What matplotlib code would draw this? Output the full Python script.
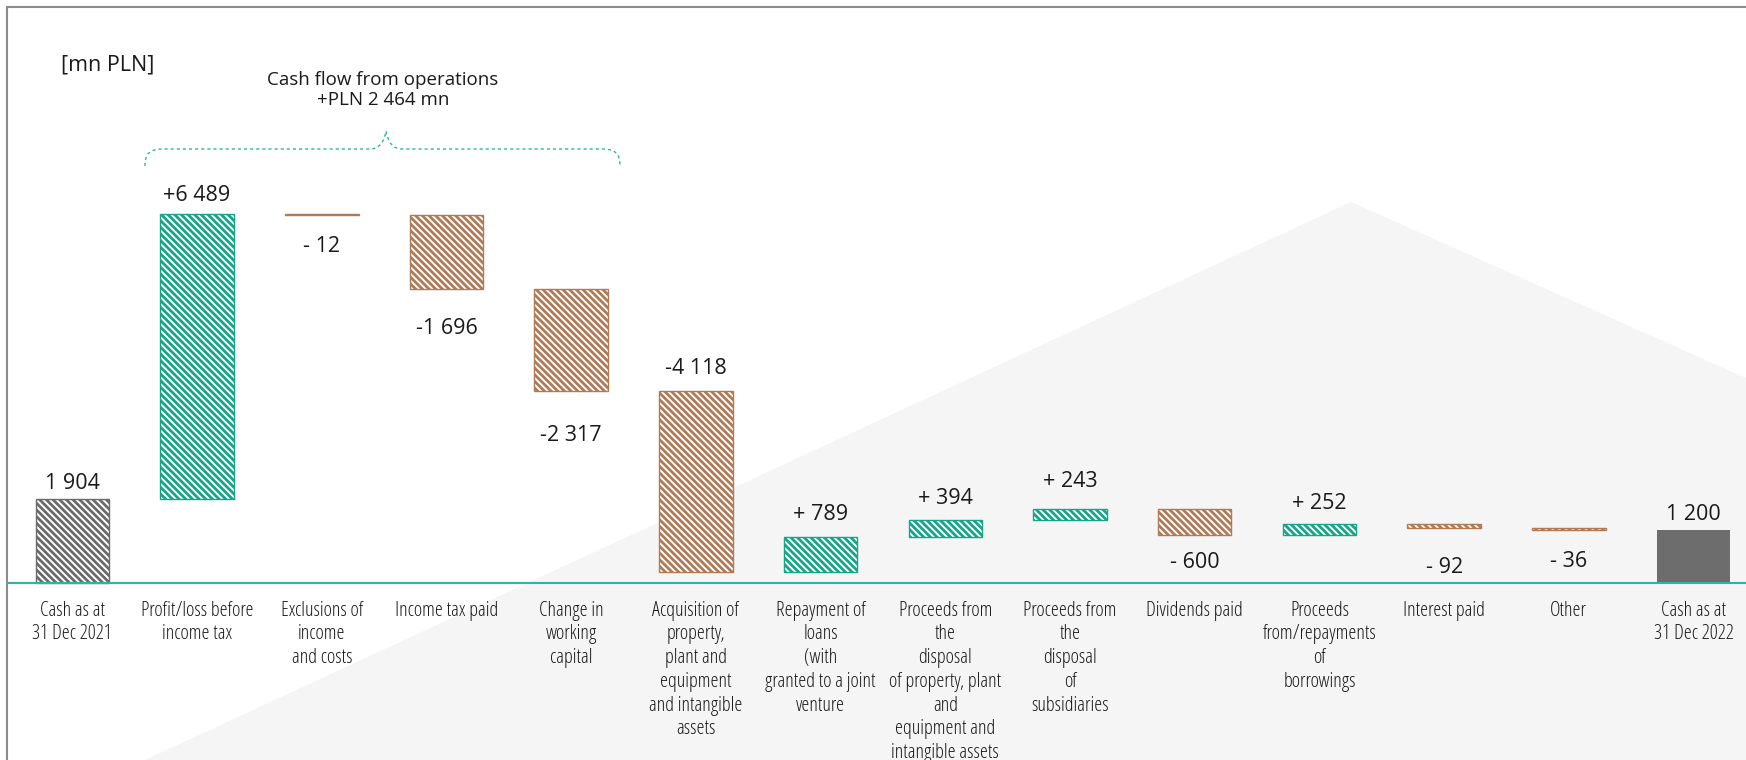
import matplotlib
matplotlib.use("Agg")
import matplotlib.pyplot as plt
from matplotlib.patches import Polygon, PathPatch
from matplotlib.path import Path
from matplotlib.lines import Line2D
from matplotlib.font_manager import FontProperties

# ---------------- data ----------------
categories = [
    "Cash as at\n31 Dec 2021",
    "Profit/loss before\nincome tax",
    "Exclusions of\nincome\nand costs",
    "Income tax paid",
    "Change in\nworking\ncapital",
    "Acquisition of\nproperty,\nplant and\nequipment\nand intangible\nassets",
    "Repayment of\nloans\n(with\ngranted to a joint\nventure",
    "Proceeds from\nthe\ndisposal\nof property, plant\nand\nequipment and\nintangible assets",
    "Proceeds from\nthe\ndisposal\nof\nsubsidiaries",
    "Dividends paid",
    "Proceeds\nfrom/repayments\nof\nborrowings",
    "Interest paid",
    "Other",
    "Cash as at\n31 Dec 2022",
]
values = [1904, 6489, -12, -1696, -2317, -4118, 789, 394, 243, -600, 252, -92, -36, 1200]
is_total = [True, False, False, False, False, False, False, False, False, False, False, False, False, True]
value_labels = ["1 904", "+6 489", "- 12", "-1 696", "-2 317", "-4 118", "+ 789", "+ 394",
                "+ 243", "- 600", "+ 252", "- 92", "- 36", "1 200"]
# label offset in pixels: positive = above bar top, negative = below bar bottom
label_offsets = [15, 19, -32, -39, -45, 22, 22, 21, 27, -27, 21, -39, -32, 15]

bracket_title = "Cash flow from operations"
bracket_value = "+PLN 2 464 mn"
unit_label = "[mn PLN]"

# ---------------- style ----------------
W, H = 1746, 760
TEAL = "#14a687"
BROWN = "#b07a56"
GRAY = "#6b6b6b"
GRAY_SOLID = "#6d6d6d"
LINE_TEAL = "#2bb79e"
TXT = "#1a1a1a"

plt.rcParams["font.family"] = ["Open Sans", "DejaVu Sans"]
plt.rcParams["hatch.linewidth"] = 2.0

fig = plt.figure(figsize=(W / 100, H / 100), dpi=100)
fig.patch.set_facecolor("white")
ax = fig.add_axes([0, 0, 1, 1])
ax.set_axis_off()
ax.set_xlim(-0.5806, 13.421)
ax.set_ylim(-4046, 13278)


def px(x, y):
    """pixel (from top-left) -> axes fraction"""
    return (x / W, 1 - y / H)


# background shape
bg = Polygon([px(145, 760), px(1351, 202), px(1746, 378), px(1746, 760)], closed=True,
             transform=ax.transAxes, facecolor="#f5f5f5", edgecolor="none", zorder=0)
ax.add_patch(bg)

# frame lines
fig.add_artist(Line2D([7 / W, 7 / W], [0, 1 - 7 / H], transform=fig.transFigure,
                      color="#8c8c8c", lw=1.5))
fig.add_artist(Line2D([7 / W, 1], [1 - 7 / H, 1 - 7 / H], transform=fig.transFigure,
                      color="#8c8c8c", lw=1.5))

# waterfall computation
bottoms, heights = [], []
cum = 0
for v, tot in zip(values, is_total):
    if tot:
        bottoms.append(0)
        heights.append(v)
        cum = v
    else:
        new = cum + v
        bottoms.append(min(cum, new))
        heights.append(abs(v))
        cum = new

xs = list(range(len(values)))
bw = 0.59
for i, (x, b, h, v, tot) in enumerate(zip(xs, bottoms, heights, values, is_total)):
    if tot and i == len(values) - 1:
        ax.bar(x, h, bottom=b, width=bw, color=GRAY_SOLID, edgecolor="none", zorder=3)
    else:
        c = GRAY if tot else (TEAL if v > 0 else BROWN)
        ax.bar(x, h, bottom=b, width=bw, facecolor="white", edgecolor=c,
               hatch="\\" * 5, linewidth=1.0, zorder=3)

# baseline
ax.axhline(0, xmin=8 / W, xmax=1, color=LINE_TEAL, lw=1.5, zorder=4)

# value labels
for x, b, h, lbl, off in zip(xs, bottoms, heights, value_labels, label_offsets):
    y = b + h if off > 0 else b
    ax.annotate(lbl, xy=(x, y), xytext=(0, off), textcoords="offset pixels",
                ha="center", va="center", fontsize=15.5, color=TXT, zorder=5)

# category labels
cat_fp = FontProperties(family="Open Sans", stretch="condensed", weight="medium", size=14.5)
for x, cat in zip(xs, categories):
    ax.annotate(cat, xy=(x, 0), xytext=(0, -18), textcoords="offset pixels",
                ha="center", va="top", multialignment="center", fontproperties=cat_fp,
                color=TXT, linespacing=1.25, zorder=5)

# unit label
ax.text(*px(61, 65), unit_label, transform=ax.transAxes, ha="left", va="center",
        fontsize=15.5, color=TXT)

# bracket title
ax.text(*px(383, 80), bracket_title, transform=ax.transAxes, ha="center", va="center",
        fontsize=13.5, color=TXT)
ax.text(*px(383, 100), bracket_value, transform=ax.transAxes, ha="center", va="center",
        fontsize=13.5, color=TXT)

# curly bracket (dotted)
verts = [px(145, 166), px(145, 153), px(150, 149), px(164, 149),
         px(370, 149),
         px(383, 149), px(386, 131),
         px(389, 149), px(402, 149),
         px(601, 149),
         px(615, 149), px(620, 153), px(620, 166)]
codes = [Path.MOVETO, Path.CURVE4, Path.CURVE4, Path.CURVE4,
         Path.LINETO,
         Path.CURVE3, Path.CURVE3,
         Path.CURVE3, Path.CURVE3,
         Path.LINETO,
         Path.CURVE4, Path.CURVE4, Path.CURVE4]
brace = PathPatch(Path(verts, codes), transform=ax.transAxes, facecolor="none",
                  edgecolor=LINE_TEAL, lw=1.0, linestyle=(0, (2.2, 2.2)), zorder=5)
ax.add_patch(brace)

fig.savefig("out.png", dpi=100, facecolor="white")
